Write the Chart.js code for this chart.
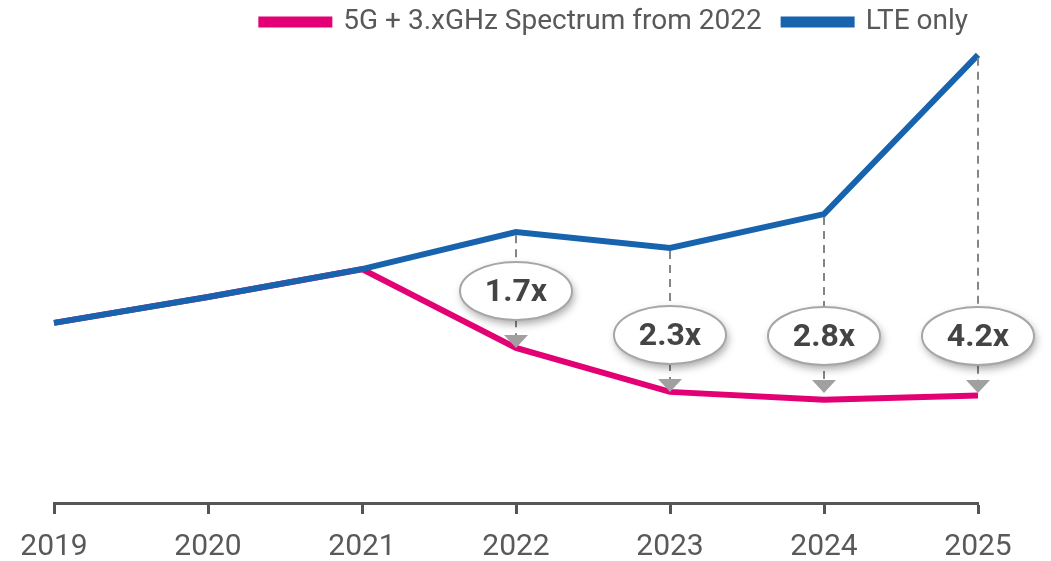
<!DOCTYPE html>
<html>
<head>
<meta charset="utf-8">
<script src="https://cdn.jsdelivr.net/npm/chart.js@4/dist/chart.umd.min.js"></script>
<style>
  html, body { margin: 0; padding: 0; background: #fff; }
  #wrap { width: 1051px; height: 561px; position: relative; }
</style>
</head>
<body>
<div id="wrap"><canvas id="c"></canvas></div>
<script>
// categories + series
var years = ["2019", "2020", "2021", "2022", "2023", "2024", "2025"];
var lteOnly = [38.9, 44.5, 50.5, 58.5, 55.1, 62.4, 96.8];
var with5g = [38.9, 44.5, 50.5, 33.5, 24.0, 22.3, 23.2];
// multiplier callouts (index into years)
var ratioIdx = [3, 4, 5, 6];
var ratioLabels = ["1.7x", "2.3x", "2.8x", "4.2x"];

var FONT = "Roboto, 'Liberation Sans', sans-serif";
var MAGENTA = "#e20074", BLUE = "#1763ad", GREY_TXT = "#595959";

var calloutPlugin = {
    id: "callouts",
    afterLayout: function (chart) {
        // nudge legend to the right edge like the original
        chart.legend.left += 12;
        chart.legend.right += 12;
    },
    afterDatasetsDraw: function (chart) {
        var ctx = chart.ctx;
        var lte = chart.getDatasetMeta(0).data, g5 = chart.getDatasetMeta(1).data;
        for (var k = 0; k < ratioIdx.length; k++) {
            var i = ratioIdx[k];
            var x = lte[i].x, yTop = lte[i].y, yLow = g5[i].y;
            var cy = Math.min(yLow - 57, 336);
            // dashed drop line
            ctx.save();
            ctx.strokeStyle = "#858585";
            ctx.lineWidth = 2;
            ctx.setLineDash([8, 6]);
            ctx.beginPath();
            ctx.moveTo(x, yTop + 3);
            ctx.lineTo(x, cy + 44);
            ctx.stroke();
            ctx.restore();
            // triangle
            ctx.save();
            ctx.fillStyle = "#a0a0a0";
            ctx.beginPath();
            ctx.moveTo(x - 12, cy + 44);
            ctx.lineTo(x + 12, cy + 44);
            ctx.lineTo(x, cy + 57);
            ctx.closePath();
            ctx.fill();
            ctx.restore();
            // ellipse bubble
            ctx.save();
            ctx.shadowColor = "rgba(0,0,0,0.35)";
            ctx.shadowBlur = 8;
            ctx.shadowOffsetX = 2;
            ctx.shadowOffsetY = 4;
            ctx.fillStyle = "#fff";
            ctx.beginPath();
            ctx.ellipse(x, cy, 56, 29, 0, 0, Math.PI * 2);
            ctx.fill();
            ctx.restore();
            ctx.save();
            ctx.strokeStyle = "#a6a6a6";
            ctx.lineWidth = 2;
            ctx.beginPath();
            ctx.ellipse(x, cy, 56, 29, 0, 0, Math.PI * 2);
            ctx.stroke();
            ctx.fillStyle = "#444";
            ctx.font = "bold 32px " + FONT;
            ctx.textAlign = "center";
            ctx.textBaseline = "middle";
            ctx.fillText(ratioLabels[k], x, cy + 2);
            ctx.restore();
        }
    }
};

new Chart(document.getElementById("c"), {
    type: "line",
    data: {
        labels: years,
        datasets: [
            {label: "LTE only", data: lteOnly, borderColor: BLUE, backgroundColor: BLUE, borderWidth: 6, pointRadius: 0, tension: 0},
            {label: "5G + 3.xGHz Spectrum from 2022", data: with5g, borderColor: MAGENTA, backgroundColor: MAGENTA, borderWidth: 6, pointRadius: 0, tension: 0}
        ]
    },
    options: {
        responsive: true,
        maintainAspectRatio: false,
        animation: false,
        layout: {padding: {left: 54, right: 73, top: -14, bottom: -19}},
        plugins: {
            legend: {
                position: "top",
                align: "end",
                reverse: true,
                labels: {
                    boxWidth: 68, boxHeight: 5, padding: 22,
                    color: GREY_TXT, font: {family: FONT, size: 28}
                }
            },
            tooltip: {enabled: false}
        },
        scales: {
            x: {
                offset: false,
                grid: {display: true, drawOnChartArea: false, drawTicks: true, tickLength: 11, tickColor: "#555", tickWidth: 3},
                border: {display: true, color: "#555", width: 3},
                ticks: {color: GREY_TXT, font: {family: FONT, size: 30, lineHeight: 1}, padding: 18, maxRotation: 0}
            },
            y: {display: false, min: 0, max: 98.7}
        }
    },
    plugins: [calloutPlugin]
});
</script>
</body>
</html>
